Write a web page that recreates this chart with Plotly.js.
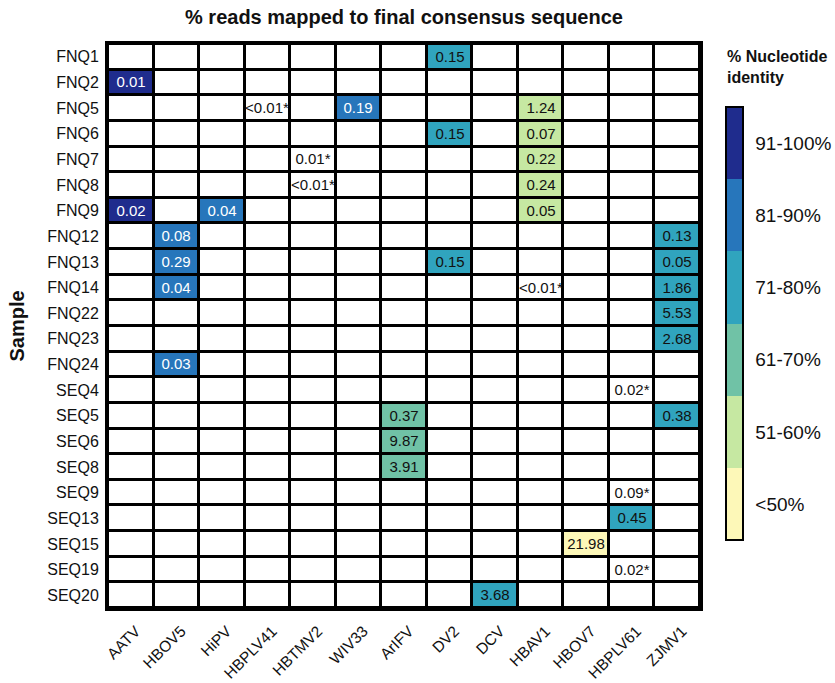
<!DOCTYPE html>
<html><head><meta charset="utf-8">
<script src="https://cdn.plot.ly/plotly-3.0.1.min.js"></script>
<style>html,body{margin:0;padding:0;background:#fff}</style>
</head><body><div id="chart" style="width:835px;height:683px"></div>
<script>
const viruses = ["AATV","HBOV5","HiPV","HBPLV41","HBTMV2","WIV33","ArIFV","DV2","DCV","HBAV1","HBOV7","HBPLV61","ZJMV1"];
const samples = ["FNQ1","FNQ2","FNQ5","FNQ6","FNQ7","FNQ8","FNQ9","FNQ12","FNQ13","FNQ14","FNQ22","FNQ23","FNQ24","SEQ4","SEQ5","SEQ6","SEQ8","SEQ9","SEQ13","SEQ15","SEQ19","SEQ20"];
const identityLabels = ["<50%","51-60%","61-70%","71-80%","81-90%","91-100%"];
const identityColors = ["#fdf8b8","#c6e8a2","#70c2a6","#30a4be","#2776bb","#1f2c8d"];

// detections: sample, virus, % reads mapped (label), identity class (0 = none, 1..6 = classes above)
const detSample = ["FNQ1","FNQ2","FNQ5","FNQ5","FNQ5","FNQ6","FNQ6","FNQ7","FNQ7","FNQ8","FNQ8","FNQ9","FNQ9","FNQ9","FNQ12","FNQ12","FNQ13","FNQ13","FNQ13","FNQ14","FNQ14","FNQ14","FNQ22","FNQ23","FNQ24","SEQ4","SEQ5","SEQ5","SEQ6","SEQ8","SEQ9","SEQ13","SEQ15","SEQ19","SEQ20"];
const detVirus = ["DV2","AATV","HBPLV41","WIV33","HBAV1","DV2","HBAV1","HBTMV2","HBAV1","HBTMV2","HBAV1","AATV","HiPV","HBAV1","HBOV5","ZJMV1","HBOV5","DV2","ZJMV1","HBOV5","HBAV1","ZJMV1","ZJMV1","ZJMV1","HBOV5","HBPLV61","ArIFV","ZJMV1","ArIFV","ArIFV","HBPLV61","HBPLV61","HBOV7","HBPLV61","DCV"];
const detReads = ["0.15","0.01","<0.01*","0.19","1.24","0.15","0.07","0.01*","0.22","<0.01*","0.24","0.02","0.04","0.05","0.08","0.13","0.29","0.15","0.05","0.04","<0.01*","1.86","5.53","2.68","0.03","0.02*","0.37","0.38","9.87","3.91","0.09*","0.45","21.98","0.02*","3.68"];
const detIdentity = [4,6,0,5,2,4,2,0,2,0,2,6,5,2,5,4,5,4,4,5,0,4,4,4,5,0,3,4,3,3,0,4,1,0,4];

function blank(v){ return samples.map(()=>viruses.map(()=>v)); }
const bgZ = blank(0), bgText = blank("");
const darkZ = blank(null), darkText = blank("");
const lightZ = blank(null), lightText = blank("");
detSample.forEach((s,k)=>{
  const r = samples.indexOf(s), c = viruses.indexOf(detVirus[k]);
  const id = detIdentity[k];
  if(id === 0){ bgText[r][c] = detReads[k]; }
  else if(id >= 5){ darkZ[r][c] = id; darkText[r][c] = detReads[k]; }
  else { lightZ[r][c] = id; lightText[r][c] = detReads[k]; }
});

const cs = [];
identityColors.forEach((c,i)=>{ cs.push([i/6,c]); cs.push([(i+1)/6,c]); });

const FONT = "Liberation Sans, Arial, Helvetica, sans-serif";
const common = {type:"heatmap", x:viruses, y:samples, xgap:3, ygap:3, hoverinfo:"skip", texttemplate:"%{text}"};
const traces = [
  Object.assign({}, common, {z:bgZ, text:bgText, colorscale:[[0,"#ffffff"],[1,"#ffffff"]], showscale:false, zmin:0, zmax:1, textfont:{size:15,color:"#111",family:FONT}}),
  Object.assign({}, common, {z:lightZ, text:lightText, coloraxis:"coloraxis", textfont:{size:15,color:"#111",family:FONT}}),
  Object.assign({}, common, {z:darkZ, text:darkText, coloraxis:"coloraxis", textfont:{size:15,color:"#ffffff",family:FONT}})
];

const layout = {
  width:835, height:683,
  margin:{l:108, r:135, t:44, b:75, autoexpand:false},
  paper_bgcolor:"#ffffff", plot_bgcolor:"#000000",
  font:{family:FONT, color:"#111"},
  title:{text:"<b>% reads mapped to final consensus sequence</b>", x:0.5, xref:"paper", y:1-17/683, yref:"container", yanchor:"middle", font:{size:20, family:FONT, color:"#111"}},
  xaxis:{type:"category", tickangle:-45, tickfont:{size:15.5}, ticklabelstandoff:5, ticklabelshift:5, showline:true, mirror:true, linewidth:3, linecolor:"#000", showgrid:false, zeroline:false, ticks:"", automargin:false},
  yaxis:{type:"category", autorange:"reversed", tickfont:{size:16}, ticklabelstandoff:3, showline:true, mirror:true, linewidth:3, linecolor:"#000", showgrid:false, zeroline:false, ticks:"", automargin:false,
    title:{text:"<b>Sample</b>", font:{size:20}, standoff:18}},
  coloraxis:{cmin:0.5, cmax:6.5, colorscale:cs, colorbar:{
    thickness:17, thicknessmode:"pixels", len:433, lenmode:"pixels",
    x:1.044, xanchor:"left", xpad:0, y:0.504, yanchor:"middle", ypad:0,
    outlinewidth:2, outlinecolor:"#000",
    tickvals:[1,2,3,4,5,6], ticktext:identityLabels, ticks:"outside", ticklen:8, tickwidth:1, tickcolor:"rgba(0,0,0,0)",
    tickfont:{size:19, family:FONT, color:"#111"}
  }},
  annotations:[{text:"<b>% Nucleotide<br>identity</b>", xref:"paper", yref:"paper", x:1.042, y:0.959, xanchor:"left", yanchor:"middle", align:"left", showarrow:false, font:{size:16, family:FONT, color:"#111"}}]
};
Plotly.newPlot("chart", traces, layout, {displayModeBar:false, staticPlot:true});
</script></body></html>
